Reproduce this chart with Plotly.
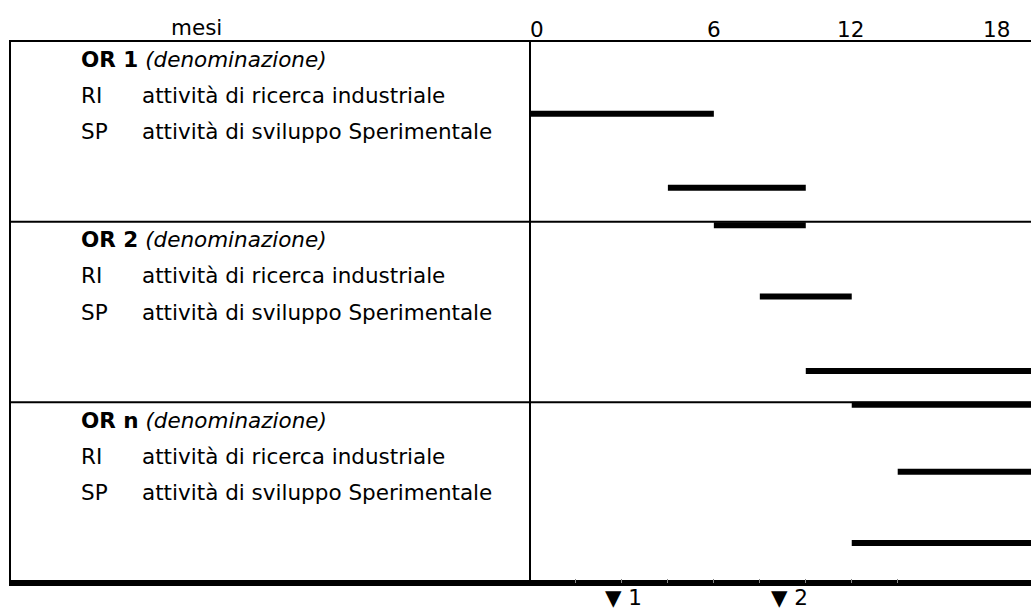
import plotly.graph_objects as go

# ---------------- data ----------------
sections = ["OR 1", "OR 2", "OR n"]
section_subtitle = "(denominazione)"
section_rows = [0, 5, 10]            # table row of each section title
activity_codes = ["RI", "SP"]
activity_names = ["attività di ricerca industriale", "attività di sviluppo Sperimentale"]
activity_offsets = [1, 2]            # rows below the section title
section_bounds = [4.5, 9.5]          # separators between sections

bar_rows = [1.51, 3.56, 4.60, 6.57, 8.63, 9.57, 11.42, 13.39]
bar_start = [0, 3, 4, 5, 6, 7, 8, 7]
bar_end = [4, 6, 6, 7, 11, 11, 11, 11]

axis_title = "mesi"
month_labels = ["0", "6", "12", "18"]
month_label_pos = [0.16, 4.0, 6.98, 10.14]
column_ticks = [1, 2, 3, 4, 5, 6, 7, 8]
milestone_labels = ["▼ 1", "▼ 2"]
milestone_pos = [2.03, 5.65]

# ---------------- figure ----------------
W, H = 1031, 610
FONT = "DejaVu Sans"
FS = 21.5
left_x = 10 / W
div_x = 530 / W

fig = go.Figure()
fig.add_trace(go.Bar(
    orientation="h",
    y=bar_rows,
    x=[e - s for s, e in zip(bar_start, bar_end)],
    base=bar_start,
    width=0.166,
    marker=dict(color="black", line=dict(width=0)),
    hoverinfo="skip",
    showlegend=False,
))

shapes = []
# top line
shapes.append(dict(type="line", xref="paper", yref="paper", x0=left_x - 1 / W, x1=1, y0=1, y1=1,
                   line=dict(color="black", width=2)))
# section separators
for b in section_bounds:
    shapes.append(dict(type="line", xref="paper", yref="y", x0=left_x - 1 / W, x1=1, y0=b, y1=b,
                       line=dict(color="black", width=2)))
# left border and divider
for xv in (left_x, div_x):
    shapes.append(dict(type="line", xref="paper", yref="paper", x0=xv, x1=xv, y0=0, y1=1,
                       line=dict(color="black", width=2)))
# thick bottom line
shapes.append(dict(type="line", xref="paper", yref="paper", x0=9 / W, x1=1, y0=0, y1=0,
                   line=dict(color="black", width=6), layer="below"))

annotations = []
for name, r in zip(sections, section_rows):
    annotations.append(dict(xref="paper", yref="y", x=79 / W, y=r, xanchor="left", yanchor="middle",
                            text=f"<b>{name}</b> <i>{section_subtitle}</i>", showarrow=False,
                            font=dict(family=FONT, size=FS, color="black")))
    for code, desc, off in zip(activity_codes, activity_names, activity_offsets):
        annotations.append(dict(xref="paper", yref="y", x=79 / W, y=r + off, xanchor="left",
                                yanchor="middle", text=code, showarrow=False,
                                font=dict(family=FONT, size=FS, color="black")))
        annotations.append(dict(xref="paper", yref="y", x=140 / W, y=r + off, xanchor="left",
                                yanchor="middle", text=desc, showarrow=False,
                                font=dict(family=FONT, size=FS, color="black")))

annotations.append(dict(xref="paper", yref="paper", x=196 / W, y=1.024, xanchor="center",
                        yanchor="middle", text=axis_title, showarrow=False,
                        font=dict(family=FONT, size=FS, color="black")))
for lab, pos in zip(month_labels, month_label_pos):
    annotations.append(dict(xref="x", yref="paper", x=pos, y=1.0215, xanchor="center",
                            yanchor="middle", text=lab, showarrow=False,
                            font=dict(family=FONT, size=FS, color="black")))
for lab, pos in zip(milestone_labels, milestone_pos):
    annotations.append(dict(xref="x", yref="paper", x=pos, y=-0.0275, xanchor="center",
                            yanchor="middle", text=lab, showarrow=False,
                            font=dict(family=FONT, size=FS, color="black")))

fig.update_layout(
    width=W, height=H,
    margin=dict(l=0, r=0, t=41, b=27),
    paper_bgcolor="white", plot_bgcolor="rgba(0,0,0,0)",
    shapes=shapes, annotations=annotations,
    xaxis=dict(domain=[div_x, 1], range=[0, 10.9], showgrid=False, zeroline=False,
               showticklabels=False, tickvals=column_ticks, ticks="inside", ticklen=4,
               tickcolor="#888888", tickwidth=1, showline=False, fixedrange=True),
    yaxis=dict(range=[14.5, -0.5], visible=False, fixedrange=True),
    font=dict(family=FONT, color="black"),
)

fig.write_html("out.html", config={"displayModeBar": False},
               post_script="document.body.style.margin='0';document.body.style.overflow='hidden';")
